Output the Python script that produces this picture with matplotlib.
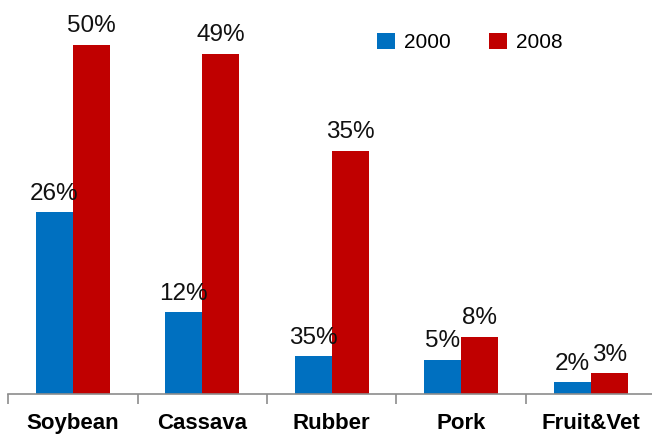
import matplotlib.pyplot as plt
import numpy as np

# data
categories = ['Soybean', 'Cassava', 'Rubber', 'Pork', 'Fruit&Vet']
share_2000 = [26, 11.7, 5.4, 4.9, 1.7]
share_2008 = [50, 48.7, 34.8, 8.2, 3.0]
labels_2000 = ['26%', '12%', '35%', '5%', '2%']  # the original labels Rubber 2000 as 35%
labels_2008 = ['50%', '49%', '35%', '8%', '3%']

blue = '#0070C0'
red = '#C00000'

fig = plt.figure(figsize=(6.52, 4.37), dpi=100)
ax = fig.add_axes([0.0123, 0.0984, 0.993, 0.9016])

x = np.arange(len(categories))
w = 0.285
b1 = ax.bar(x - w / 2, share_2000, w, color=blue, label='2000')
b2 = ax.bar(x + w / 2, share_2008, w, color=red, label='2008')

for bars, labs in ((b1, labels_2000), (b2, labels_2008)):
    for rect, lab in zip(bars, labs):
        ax.annotate(lab, (rect.get_x() + rect.get_width() / 2, rect.get_height()),
                    xytext=(0, 9), textcoords='offset points',
                    ha='center', va='baseline', fontsize=17.5,
                    family='Liberation Sans', color='#111111')

ax.set_xlim(-0.5, len(categories) - 0.5)
ax.set_ylim(0, 56.4)

for s in ['top', 'right', 'left']:
    ax.spines[s].set_visible(False)
ax.spines['bottom'].set_color('#8c8c8c')
ax.spines['bottom'].set_linewidth(1.2)
ax.set_yticks([])

ax.set_xticks(x)
ax.set_xticklabels(categories, fontsize=16, fontweight='bold', family='Liberation Sans')
ax.tick_params(axis='x', which='major', length=0, pad=14)
ax.set_xticks(np.arange(len(categories) + 1) - 0.5, minor=True)
ax.tick_params(axis='x', which='minor', length=7, width=1.2, color='#8c8c8c', direction='out')

fig.legend(handles=[b1, b2], loc='center left', bbox_to_anchor=(0.578, 0.903),
           ncol=2, frameon=False, prop={'family': 'Liberation Sans', 'size': 15},
           handlelength=0.86, handleheight=0.86, handletextpad=0.43,
           columnspacing=1.86, borderpad=0, borderaxespad=0)

fig.savefig('out.png', dpi=100)
